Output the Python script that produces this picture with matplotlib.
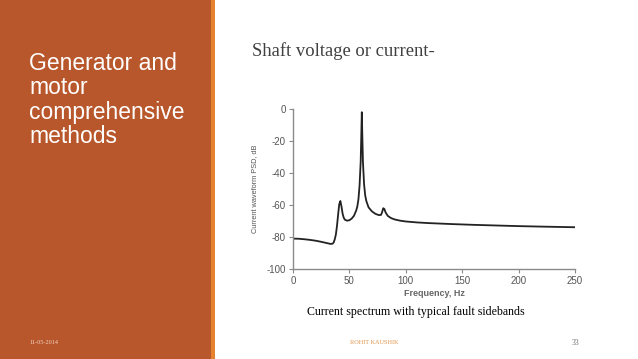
import matplotlib.pyplot as plt
from matplotlib.patches import Rectangle

plt.rcParams['axes.unicode_minus'] = False

# spectrum
freq = [0, 5, 10, 15, 20, 25, 30, 33, 35, 36, 37, 38, 39, 40, 41, 42, 43, 44, 45, 46,
        48, 50, 52, 54, 56, 57, 58, 59, 60, 60.5, 61, 61.5, 62, 63, 64, 65, 67, 70,
        73, 76, 78, 79, 80, 81, 82, 84, 87, 90, 95, 100, 110, 120, 140, 160, 180,
        200, 220, 250]
psd = [-81.0, -81.1, -81.4, -81.8, -82.3, -83.0, -83.8, -84.3, -84.2, -83.5, -81.5,
       -78.5, -73.0, -66.0, -59.5, -57.5, -61.0, -65.5, -68.0, -69.2, -69.8, -69.5,
       -68.5, -66.8, -63.5, -61.0, -56.5, -48.0, -33.0, -18.0, -2.0, -18.0, -33.0,
       -47.0, -54.0, -57.5, -61.5, -64.0, -65.5, -66.3, -66.2, -64.5, -62.0, -62.5,
       -64.5, -66.8, -68.2, -69.0, -69.8, -70.3, -70.9, -71.3, -71.9, -72.4, -72.8,
       -73.2, -73.5, -73.9]
xticks = [0, 50, 100, 150, 200, 250]
yticks = [0, -20, -40, -60, -80, -100]

fig = plt.figure(figsize=(6.38, 3.59), dpi=100)
fig.patch.set_facecolor('white')

# orange side panel
fig.patches.append(Rectangle((0, 0), 211/638, 1, transform=fig.transFigure,
                             facecolor='#B9572C', edgecolor='none', zorder=0))
fig.patches.append(Rectangle((211/638, 0), 4/638, 1, transform=fig.transFigure,
                             facecolor='#E5822E', edgecolor='none', zorder=0))

fig.text(29/638, 1 - 52/359, 'Generator and\nmotor\ncomprehensive\nmethods',
         color='white', fontsize=16.5, family='Liberation Sans', va='top', ha='left',
         linespacing=1.08)
fig.text(29/638, 1 - 343/359, '11-05-2014', color='#F2D2C0', fontsize=4.5,
         family='Liberation Serif', va='center')

fig.text(252/638, 1 - 51/359, 'Shaft voltage or current-', color='#404040',
         fontsize=13.4, family='Liberation Serif', va='center')
fig.text(416/638, 1 - 312/359, 'Current spectrum with typical fault sidebands',
         color='black', fontsize=8.6, family='Liberation Serif', va='center', ha='center')
fig.text(350/638, 1 - 343/359, 'ROHIT KAUSHIK', color='#E0954A', fontsize=4.5,
         family='Liberation Serif', va='center')
fig.text(575/638, 1 - 343/359, '33', color='#707070', fontsize=5.5,
         family='Liberation Serif', va='center', ha='center')

ax = fig.add_axes([293/638, 1 - 269/359, 282/638, 160/359])
ax.plot(freq, psd, color='#222222', linewidth=1.3)
ax.set_xlim(0, 250)
ax.set_ylim(-100, 0)
ax.set_xticks(xticks)
ax.set_yticks(yticks)
ax.set_facecolor('none')
for s in ['top', 'right']:
    ax.spines[s].set_visible(False)
for s in ['left', 'bottom']:
    ax.spines[s].set_color('#8a8a8a')
    ax.spines[s].set_linewidth(1.0)
ax.tick_params(colors='#8a8a8a', labelcolor='#555555', labelsize=7, length=3, pad=2)
for lab in ax.get_xticklabels() + ax.get_yticklabels():
    lab.set_family('Liberation Sans')
ax.set_xlabel('Frequency, Hz', fontsize=6.5, color='#666666', fontweight='bold',
              family='Liberation Sans', labelpad=2)
ax.set_ylabel('Current waveform PSD, dB', fontsize=5.3, color='#555555',
              family='Liberation Sans', labelpad=6)

fig.savefig('out.png', dpi=100)
